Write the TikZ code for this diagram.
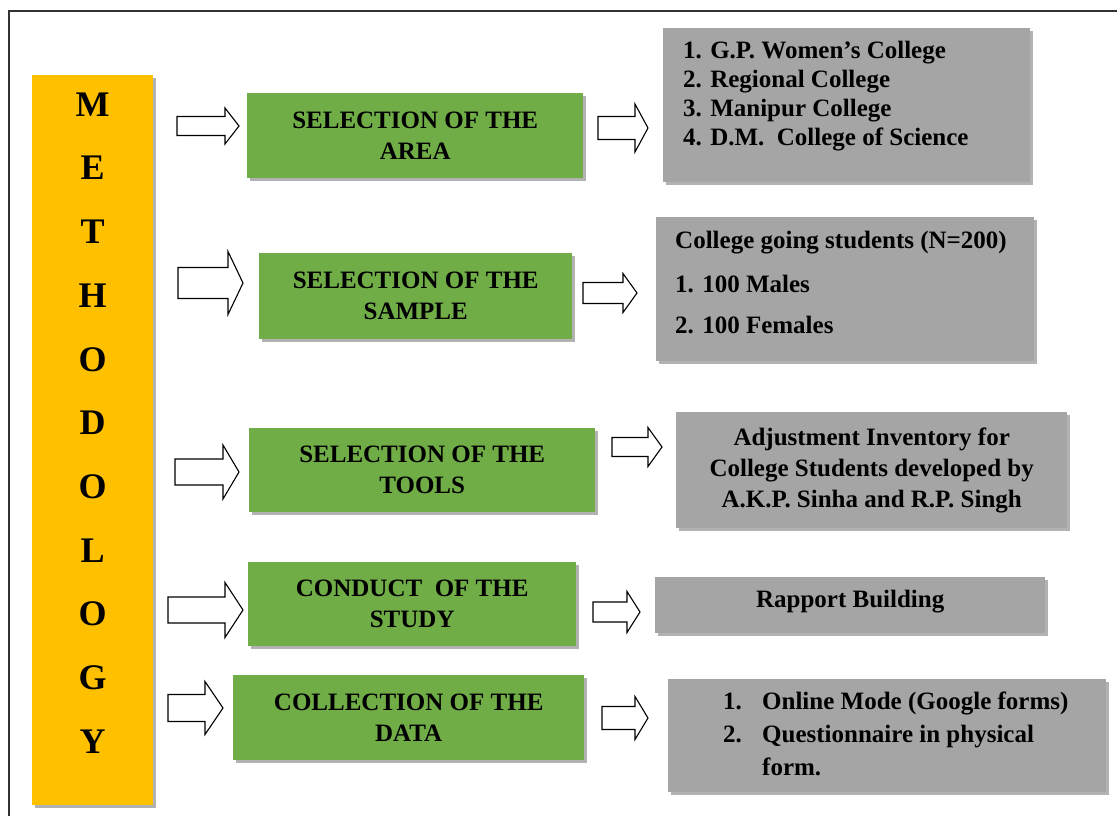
\documentclass[tikz,border=0pt]{standalone}
\usepackage{fontspec}
\setmainfont{Liberation Serif}
\usetikzlibrary{shadows}
\definecolor{methyellow}{HTML}{FFC000}
\definecolor{stepgreen}{HTML}{70AD47}
\definecolor{infogray}{HTML}{A5A5A5}
\definecolor{framegray}{HTML}{333333}
\tikzset{
  shadowed/.style={drop shadow={shadow xshift=2.5pt, shadow yshift=-3pt, fill=black, opacity=0.3}},
  methbar/.style={fill=methyellow, shadowed, inner sep=0pt, anchor=north west},
  greenbox/.style={fill=stepgreen, shadowed, anchor=north west, align=center, inner sep=0pt,
                   font=\fontsize{25}{31}\selectfont\bfseries},
  graybox/.style={fill=infogray, shadowed, anchor=north west, inner sep=0pt,
                  font=\fontsize{25}{29}\selectfont\bfseries},
  blockarr/.style={draw=black, fill=white, line width=1.1pt, line join=miter},
  framestyle/.style={draw=framegray, line width=1.3pt},
}
\newcommand{\blockarrow}[6]{% x0, x1 (head base), x2 (tip), yc, shaft half, head half
  \draw[blockarr] (#1,#4-#5) -- (#2,#4-#5) -- (#2,#4-#6) -- (#3,#4) -- (#2,#4+#6) -- (#2,#4+#5) -- (#1,#4+#5) -- cycle;}
\begin{document}
\begin{tikzpicture}[x=1pt,y=-1pt]
\useasboundingbox (0,0) rectangle (1117,816);
\fill[white] (0,0) rectangle (1117,816);
% frame
\draw[framestyle] (1117,11) -- (9,11) -- (9,816);
% left bar
\node[methbar] (meth) at (32,75) {\parbox[c][730pt][t]{121pt}{\centering\fontsize{36}{63.7}\selectfont\bfseries\rule{0pt}{41pt}M\\E\\T\\H\\O\\D\\O\\L\\O\\G\\Y}};
% green steps
\node[greenbox, minimum width=336pt, minimum height=85pt] (s1) at (247,93) {SELECTION OF THE\\AREA};
\node[greenbox, minimum width=313pt, minimum height=86pt] (s2) at (259,253) {SELECTION OF THE\\SAMPLE};
\node[greenbox, minimum width=346pt, minimum height=84pt] (s3) at (249,428) {SELECTION OF THE\\TOOLS};
\node[greenbox, minimum width=328pt, minimum height=84pt] (s4) at (248,562) {CONDUCT~ OF THE\\STUDY};
\node[greenbox, minimum width=351pt, minimum height=85pt] (s5) at (233,675) {COLLECTION OF THE\\DATA};
% gray details
\node[graybox] (r1) at (663,28) {\parbox[c][154pt][t]{367pt}{\leftskip=20pt\rule{0pt}{30pt}1. G.P. Women's College\\2. Regional College\\3. Manipur College\\4. D.M.\ \ College of Science}};
\node[graybox] (r2) at (656,217) {\parbox[c][144pt][t]{378pt}{\leftskip=19pt\rule{0pt}{31pt}College going students (N=200)\\[15pt]1. 100 Males\\[12pt]2. 100 Females}};
\node[graybox, minimum width=391pt, minimum height=116pt, align=center, font=\fontsize{25}{31}\selectfont\bfseries] (r3) at (676,412) {Adjustment Inventory for\\College Students developed by\\A.K.P. Sinha and R.P. Singh};
\node[graybox] (r4) at (655,577) {\parbox[c][56pt][t]{390pt}{\centering\rule{0pt}{30pt}Rapport Building}};
\node[graybox] (r5) at (668,679) {\parbox[c][113pt][t]{438pt}{\fontsize{25}{33}\selectfont\leftskip=55pt\rule{0pt}{30pt}\makebox[39pt][l]{1.}Online Mode (Google forms)\\\makebox[39pt][l]{2.}Questionnaire in physical\\\hspace*{39pt}form.}};
% block arrows: bar -> steps
\blockarrow{177}{225}{239}{126}{9.5}{18}
\blockarrow{178}{228}{243}{283}{15.5}{31.5}
\blockarrow{175}{223}{239}{472}{13}{27}
\blockarrow{168}{225}{243}{610}{13}{27.5}
\blockarrow{168}{205}{223}{708}{13.5}{26.5}
% block arrows: steps -> details
\blockarrow{598}{635}{648}{128}{11.5}{24}
\blockarrow{583}{623}{637}{293}{10.5}{19.5}
\blockarrow{612}{648}{662}{447}{9.5}{19.5}
\blockarrow{593}{627}{640}{612}{10}{20.5}
\blockarrow{602}{635}{648}{718}{11.5}{21.5}
\end{tikzpicture}
\end{document}
